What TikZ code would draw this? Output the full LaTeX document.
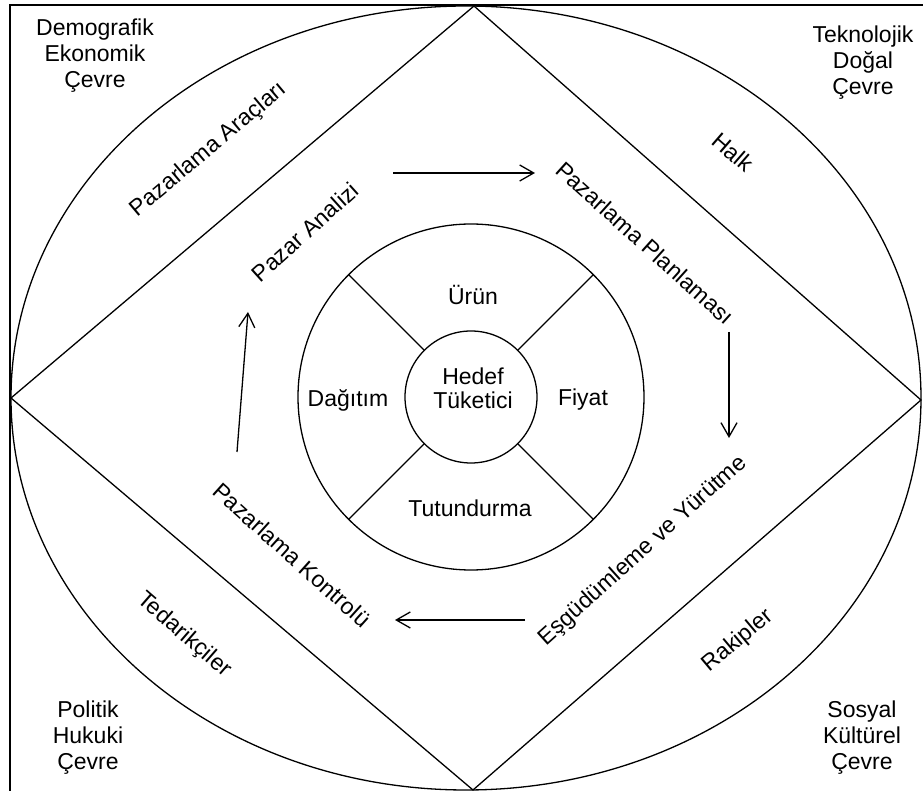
\documentclass[tikz,border=0pt]{standalone}
\usepackage{fontspec}
\setmainfont{Liberation Sans}
\usetikzlibrary{arrows.meta}

\begin{document}
\begin{tikzpicture}[x=0.5pt,y=-0.5pt,
    every node/.style={font=\fontsize{11.5}{13}\selectfont, align=center, inner sep=0pt},
    ring/.style={line width=0.65pt},
    flow/.style={line width=0.65pt, -{Straight Barb[length=7pt,width=8pt]}}]
  \useasboundingbox (0,0) rectangle (923,791);

      % frame, environment ellipse and diamond
      \draw [line width=1pt] (923,5) -- (10,5) -- (10,791);
      \draw [ring] (466,398) ellipse [x radius=455, y radius=392];

      \coordinate (DL) at (11,398);
      \coordinate (DT) at (474,6);
      \coordinate (DR) at (921,400);
      \coordinate (DB) at (473,790);
      \draw [ring] (DL) -- (DT) -- (DR) -- (DB) -- cycle;

      % centre: target consumer and the mix
      \coordinate (C) at (471,397);
      \draw [ring] (C) circle [radius=173];
      \draw [ring] (C) circle [radius=66];
      \foreach \a in {45,135,225,315}
        \draw [ring] (C) ++(\a:66) -- ++(\a:107);

      \node (Hed) at (473,388) {Hedef\\[-1pt]Tüketici};
      \node (Urun) at (473,295) {Ürün};
      \node (Fiy) at (583,400) {Fiyat};
      \node (Dag) at (348,400) {Dağıtım};
      \node (Tut) at (470,508) {Tutundurma};

      % corners
      \node (Dem) at (95,56) {Demografik\\Ekonomik\\Çevre};
      \node (Tek) at (863,63) {Teknolojik\\Doğal\\Çevre};
      \node (Pol) at (88,738) {Politik\\Hukuki\\Çevre};
      \node (Sos) at (862,738) {Sosyal\\Kültürel\\Çevre};

      % between ellipse and diamond
      \node (Arac) at (209,150) [rotate=40] {Pazarlama Araçları};
      \node (Halk) at (733,152) [rotate=-41] {Halk};
      \node (Ted) at (184,635) [rotate=-41] {Tedarikçiler};
      \node (Rak) at (738,641) [rotate=40] {Rakipler};

      % between diamond and circle
      \node (Anl) at (305,232) [rotate=42] {Pazar Analizi};
      \node (Plan) at (645,243) [rotate=-42] {Pazarlama Planlaması};
      \node (Yur) at (643,551) [rotate=42] {Eşgüdümleme ve Yürütme};
      \node (Kon) at (292,555) [rotate=-42] {Pazarlama Kontrolü};

      \coordinate (A1) at (393,173);
      \coordinate (A2) at (535,173);
      \coordinate (B1) at (729,332);
      \coordinate (B2) at (729,438);
      \coordinate (K1) at (525,620);
      \coordinate (K2) at (395,620);
      \coordinate (D1) at (237,452);
      \coordinate (D2) at (248,312);

      \draw [flow] (A1) to (A2);
      \draw [flow] (B1) to (B2);
      \draw [flow] (K1) to (K2);
      \draw [flow] (D1) to (D2);
\end{tikzpicture}
\end{document}
